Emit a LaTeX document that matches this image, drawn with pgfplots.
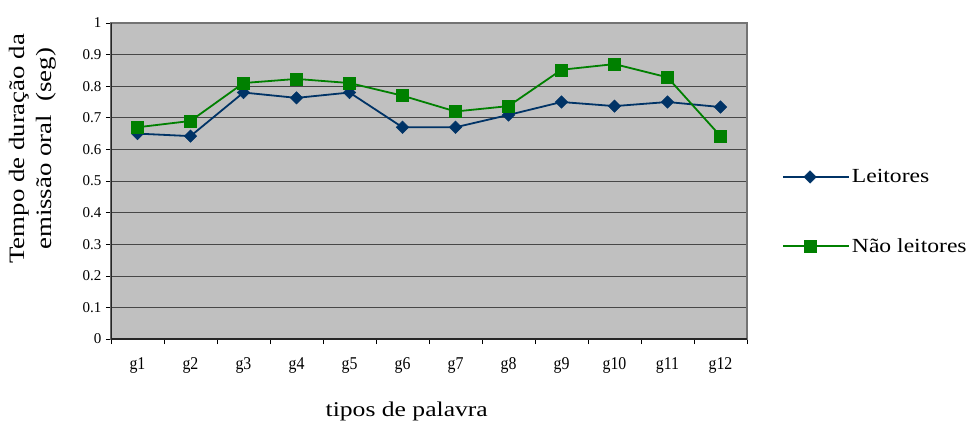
\documentclass[border=0pt]{standalone}
\usepackage{fontspec}
\setmainfont{Liberation Serif}
\newfontfamily\widefont[FakeStretch=1.22]{Liberation Serif}
\newfontfamily\legfont[FakeStretch=1.18]{Liberation Serif}
\newfontfamily\narrowfont[FakeStretch=0.88]{Liberation Serif}
\usepackage{pgfplots}
\pgfplotsset{compat=1.18}
\definecolor{navyL}{RGB}{0,51,102}
\definecolor{greenN}{RGB}{0,128,0}
\definecolor{plotbg}{RGB}{192,192,192}
\begin{document}
\begin{tikzpicture}
\path[use as bounding box] (-111bp,-87bp) rectangle (860bp,339bp);
\begin{axis}[
  at={(0,0)}, anchor=south west,
  scale only axis, width=636bp, height=316bp,
  xmin=0.5, xmax=12.5, ymin=0, ymax=1,
  axis background/.style={fill=plotbg},
  axis line style={draw=gray!90!black, line width=1.2pt},
  xtick={1,...,12},
  xticklabels={g1,g2,g3,g4,g5,g6,g7,g8,g9,g10,g11,g12},
  minor xtick={0.5,1.5,...,12.5},
  major x tick style={draw=none},
  minor tick length=5bp,
  major tick length=5bp,
  tick align=outside, tick pos=left,
  tick style={black, line width=0.6pt},
  ytick={0,0.1,...,1.0},
  /pgf/number format/fixed, /pgf/number format/precision=1,
  /pgf/number format/assume math mode=true,
  yticklabel style={font=\fontsize{15bp}{17bp}\selectfont, xshift=-1bp},
  xticklabel style={font=\narrowfont\fontsize{18bp}{20bp}\selectfont, yshift=-10bp},
  ymajorgrids, grid style={draw=black!72, line width=0.6pt},
  xlabel={tipos de palavra},
  xlabel style={at={(axis description cs:0.465,-0.228)}, anchor=center, font=\widefont\fontsize{21bp}{24bp}\selectfont},
  ylabel={Tempo de duração da\\emissão oral \ (seg)},
  ylabel style={at={(axis description cs:-0.123,0.602)}, anchor=center, align=center, font=\widefont\fontsize{22bp}{27bp}\selectfont},
  legend style={at={(axis description cs:1.055,0.403)}, anchor=west, draw=none, fill=none,
    font=\legfont\fontsize{20bp}{22bp}\selectfont, row sep=50bp, inner sep=0pt},
  legend cell align=left,
  legend image code/.code={
    \path (0bp,0bp) -- (66bp,0bp);
    \draw[#1, mark=none] (0bp,0bp) -- (50bp,0bp);
    \path[#1] plot coordinates {(27bp,0bp)};
  },
]
\addplot[color=navyL, line width=1.8bp, mark=square*, mark size=4.4bp, mark options={solid, rotate=45, fill=navyL, line width=0.5pt}]
coordinates {(1,0.65)(2,0.642)(3,0.78)(4,0.763)(5,0.78)(6,0.67)(7,0.67)(8,0.709)(9,0.75)(10,0.737)(11,0.75)(12,0.734)};
\addlegendentry{Leitores}
\addplot[color=greenN, line width=1.8bp, mark=square*, mark size=6bp, mark options={solid, fill=greenN, line width=0.5pt}]
coordinates {(1,0.67)(2,0.69)(3,0.81)(4,0.823)(5,0.81)(6,0.77)(7,0.72)(8,0.737)(9,0.852)(10,0.87)(11,0.828)(12,0.642)};
\addlegendentry{Não leitores}
\draw[black!85, line width=1.3pt] (rel axis cs:0,1) -- (rel axis cs:0,0) -- (rel axis cs:1,0);
\end{axis}
\end{tikzpicture}
\end{document}
